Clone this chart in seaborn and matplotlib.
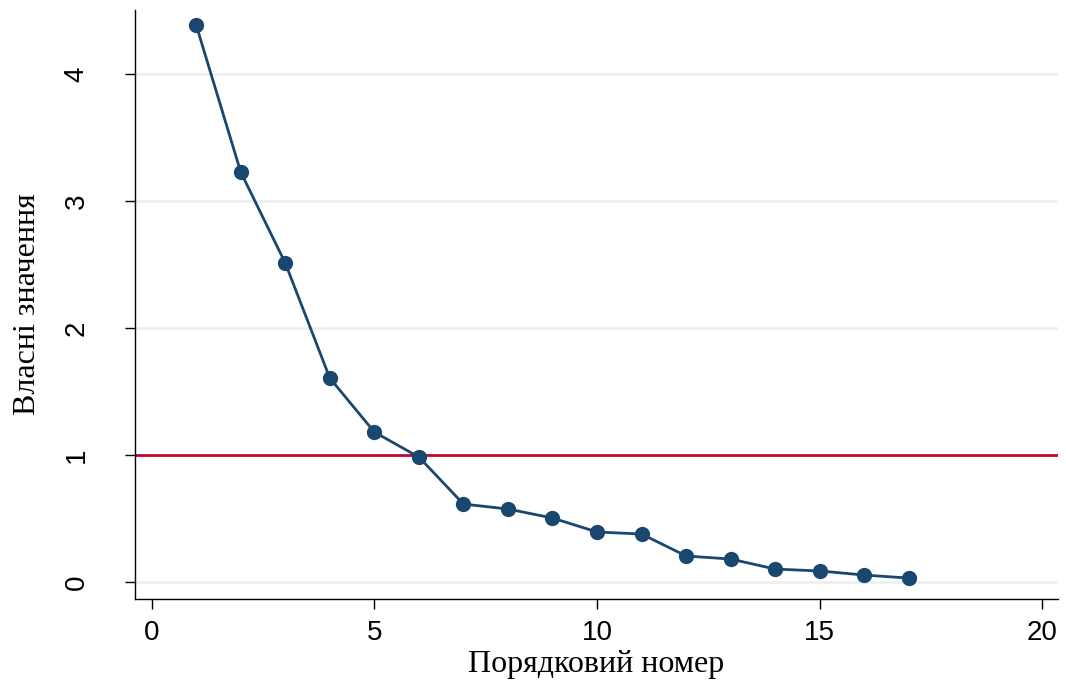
import matplotlib
matplotlib.use("Agg")
import matplotlib.pyplot as plt
import seaborn as sns
import pandas as pd

component = list(range(1, 18))
eigenvalues = [4.386, 3.228, 2.512, 1.606, 1.181, 0.984, 0.614, 0.575, 0.504,
               0.394, 0.378, 0.205, 0.181, 0.102, 0.087, 0.055, 0.031]
x_ticks = [0, 5, 10, 15, 20]
y_ticks = [0, 1, 2, 3, 4]
x_label = "Порядковий номер"
y_label = "Власні значення"
ref_value = 1.0

df = pd.DataFrame({"n": component, "ev": eigenvalues})

sns.set_theme(style="white")
plt.rcParams['font.family'] = ['Liberation Sans', 'DejaVu Sans']

fig = plt.figure(figsize=(10.66, 6.82), dpi=100)
ax = fig.add_axes([0.1266, 0.1222, 0.9925 - 0.1266, 0.9860 - 0.1222])

for yv in y_ticks:
    ax.axhline(yv, color="#eaf0f2", lw=2.0, zorder=0)
ax.axhline(ref_value, color="#c10534", lw=2.0, zorder=1)

sns.lineplot(data=df, x="n", y="ev", ax=ax, color="#1a476f", lw=2.0,
             marker="o", markersize=11, markeredgewidth=0, zorder=3)

ax.set_xlim(-0.375, 20.35)
ax.set_ylim(-0.131, 4.508)
ax.set_xticks(x_ticks)
ax.set_yticks(y_ticks)
ax.set_xticklabels([str(v) for v in x_ticks])
ax.set_yticklabels([str(v) for v in y_ticks], rotation=90, va="center")

for s in ["top", "right"]:
    ax.spines[s].set_visible(False)
for s in ["left", "bottom"]:
    ax.spines[s].set_color("black")
    ax.spines[s].set_linewidth(1.0)

ax.tick_params(axis="both", direction="out", length=7.5, width=1.0, color="black",
               labelsize=20, labelcolor="black")
ax.tick_params(axis="x", pad=8, bottom=True)
ax.tick_params(axis="y", pad=25, left=True)

ax.set_xlabel(x_label, family=["Liberation Serif", "DejaVu Serif"], fontsize=23,
              color="black", labelpad=3)
ax.set_ylabel(y_label, family=["Liberation Serif", "DejaVu Serif"], fontsize=23,
              color="black", labelpad=16)

fig.savefig("out.png", dpi=100)
